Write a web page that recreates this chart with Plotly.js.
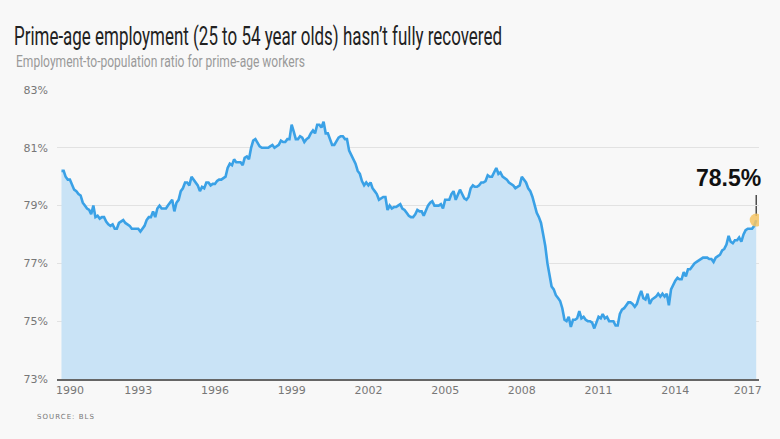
<!DOCTYPE html>
<html>
<head>
<meta charset="utf-8">
<script src="https://cdn.plot.ly/plotly-3.0.1.min.js"></script>
<style>
  html, body { margin: 0; padding: 0; background: #f8f8f8; }
  #chart { width: 780px; height: 439px; }
</style>
</head>
<body>
<div id="chart"></div>
<script>
// Monthly prime-age (25-54) employment-to-population ratio, %, Jan 1990 - Mar 2017
const startYear = 1990;
const ratio = [
  80.2, 80.2, 80.0, 79.9, 79.9, 79.7, 79.55, 79.5, 79.4, 79.35, 79.1, 79.0,      // 1990
  78.9, 78.85, 78.7, 79.0, 78.6, 78.65, 78.55, 78.6, 78.6, 78.45, 78.35, 78.3,   // 1991
  78.35, 78.2, 78.2, 78.4, 78.45, 78.5, 78.4, 78.35, 78.3, 78.2, 78.2, 78.2,     // 1992
  78.2, 78.1, 78.2, 78.3, 78.5, 78.6, 78.6, 78.8, 78.6, 78.9, 79.0, 78.9,        // 1993
  78.9, 78.9, 79.0, 79.1, 79.2, 78.8, 79.1, 79.2, 79.5, 79.6, 79.8, 79.8,        // 1994
  79.7, 80.0, 79.9, 79.8, 79.7, 79.5, 79.65, 79.6, 79.8, 79.8, 79.7, 79.75,      // 1995
  79.75, 79.85, 79.9, 79.9, 79.95, 80.0, 80.3, 80.45, 80.4, 80.6, 80.5, 80.5,    // 1996
  80.5, 80.4, 80.65, 80.7, 80.6, 81.0, 81.25, 81.3, 81.15, 81.05, 81.0, 81.0,    // 1997
  81.0, 81.0, 81.05, 81.1, 81.0, 81.05, 81.1, 81.25, 81.2, 81.2, 81.3, 81.3,     // 1998
  81.8, 81.55, 81.3, 81.3, 81.4, 81.35, 81.2, 81.3, 81.35, 81.5, 81.6, 81.5,     // 1999
  81.8, 81.8, 81.7, 81.9, 81.5, 81.5, 81.3, 81.1, 81.1, 81.25, 81.35, 81.4,      // 2000
  81.4, 81.3, 81.3, 80.9, 80.75, 80.6, 80.45, 80.2, 80.1, 79.85, 79.7, 79.8,     // 2001
  79.7, 79.8, 79.6, 79.5, 79.4, 79.2, 79.25, 79.3, 79.3, 78.85, 79.0, 78.9,      // 2002
  78.95, 78.95, 79.0, 79.05, 78.9, 78.85, 78.75, 78.65, 78.6, 78.6, 78.7, 78.85, // 2003
  78.8, 78.8, 78.65, 78.85, 79.0, 79.1, 79.15, 79.0, 79.0, 79.0, 79.05, 78.9,    // 2004
  79.2, 79.2, 79.2, 79.4, 79.5, 79.2, 79.4, 79.55, 79.4, 79.25, 79.2, 79.3,      // 2005
  79.6, 79.7, 79.65, 79.65, 79.7, 79.8, 79.8, 79.85, 80.05, 80.0, 80.0, 80.15,   // 2006
  80.3, 80.1, 80.15, 80.0, 79.95, 79.9, 79.8, 79.75, 79.7, 79.6, 79.65, 79.7,    // 2007
  80.0, 79.9, 79.8, 79.6, 79.5, 79.3, 79.0, 78.75, 78.6, 78.4, 78.0, 77.6,       // 2008
  77.0, 76.6, 76.2, 76.1, 75.9, 75.8, 75.7, 75.45, 75.05, 75.0, 75.15, 74.8,     // 2009
  75.05, 75.05, 75.1, 75.35, 75.1, 75.15, 75.05, 75.0, 75.0, 74.95, 74.75, 74.95,// 2010
  75.15, 75.1, 75.25, 75.1, 75.15, 75.0, 75.0, 75.0, 74.85, 74.85, 75.25, 75.4,  // 2011
  75.45, 75.55, 75.65, 75.65, 75.6, 75.5, 75.6, 75.85, 76.05, 75.8, 75.75, 75.95,// 2012
  75.6, 75.75, 75.8, 75.85, 75.95, 75.85, 75.95, 75.85, 75.95, 75.55, 76.1, 76.25,// 2013
  76.4, 76.5, 76.45, 76.45, 76.7, 76.55, 76.8, 76.8, 76.9, 77.0, 77.05, 77.1,    // 2014
  77.15, 77.2, 77.2, 77.2, 77.15, 77.15, 77.05, 77.2, 77.25, 77.3, 77.45, 77.5,  // 2015
  77.65, 77.95, 77.75, 77.7, 77.8, 77.8, 77.9, 77.75, 78.0, 78.15, 78.2, 78.2,   // 2016
  78.2, 78.3, 78.5                                                              // 2017
];
const yTickVals = [73, 75, 77, 79, 81, 83];
const yTickText = ['73%', '75%', '77%', '79%', '81%', '83%'];
const xTickVals = ['1990-05-01', '1993-01-01', '1996-01-01', '1999-01-01', '2002-01-01',
                   '2005-01-01', '2008-01-01', '2011-01-01', '2014-01-01', '2016-11-01'];
const xTickText = ['1990', '1993', '1996', '1999', '2002', '2005', '2008', '2011', '2014', '2017'];
const titleText = 'Prime-age employment (25 to 54 year olds) hasn’t fully recovered';
const subtitleText = 'Employment-to-population ratio for prime-age workers';
const sourceText = 'SOURCE: BLS';

const dates = ratio.map((_, i) => {
  const y = startYear + Math.floor(i / 12);
  const m = (i % 12) + 1;
  return y + '-' + (m < 10 ? '0' + m : m) + '-01';
});
const lastDate = dates[dates.length - 1];
const lastVal = ratio[ratio.length - 1];

const traces = [
  {
    x: dates, y: ratio, type: 'scatter', mode: 'lines',
    line: { color: '#3aa1e6', width: 2.6 },
    fill: 'tozeroy', fillcolor: '#c9e3f6',
    hoverinfo: 'skip'
  },
  {
    x: [lastDate], y: [lastVal], type: 'scatter', mode: 'markers',
    marker: { size: 13, color: 'rgba(245,196,100,0.85)' },
    hoverinfo: 'skip'
  }
];

const tickFont = { family: 'DejaVu Sans, Verdana, sans-serif', size: 11, color: '#777' };
const headFont = 'Roboto, Noto Sans, sans-serif';

const layout = {
  width: 780, height: 439,
  paper_bgcolor: '#f8f8f8', plot_bgcolor: '#f8f8f8',
  margin: { l: 57, r: 21, t: 90, b: 60 },
  showlegend: false,
  title: {
    text: titleText,
    font: { family: headFont, size: 25, color: '#222' },
    xref: 'container', x: 14 / 780, xanchor: 'left',
    yref: 'container', y: 1 - 36 / 439, yanchor: 'middle'
  },
  xaxis: {
    type: 'date',
    range: ['1989-10-29', '2017-04-10'],
    showgrid: false, zeroline: false,
    showline: true, linecolor: '#666', linewidth: 1.5,
    ticks: '', tickvals: xTickVals, ticktext: xTickText,
    tickfont: tickFont, fixedrange: true
  },
  yaxis: {
    range: [73, 83],
    tickvals: yTickVals, ticktext: yTickText,
    showgrid: true, gridcolor: '#e2e2e2', gridwidth: 1,
    zeroline: false, showline: false, ticks: '',
    ticklabelstandoff: 8,
    tickfont: tickFont, fixedrange: true
  },
  shapes: [
    {
      type: 'line', layer: 'below',
      xref: 'x', x0: lastDate, x1: lastDate,
      yref: 'y', ysizemode: 'pixel', yanchor: lastVal, y0: 4, y1: 25,
      line: { color: '#222', width: 1.2 }
    }
  ],
  annotations: [
    {
      text: subtitleText, showarrow: false, align: 'left',
      xref: 'paper', x: (14 - 57) / 702, xanchor: 'left',
      yref: 'paper', y: 1 + (90 - 61) / 289, yanchor: 'middle',
      font: { family: headFont, size: 17, color: '#9a9a9a' }
    },
    {
      text: sourceText, showarrow: false, align: 'left',
      xref: 'paper', x: (35 - 57) / 702, xanchor: 'left',
      yref: 'paper', y: -(417 - 379) / 289, yanchor: 'middle',
      font: { family: 'DejaVu Sans, sans-serif', size: 7, color: '#777' }
    },
    {
      text: '<b>' + lastVal.toFixed(1) + '%</b>', showarrow: false,
      xref: 'x', x: lastDate, xanchor: 'right', xshift: 7,
      yref: 'y', y: lastVal, yanchor: 'bottom', yshift: 27,
      font: { family: 'Liberation Sans, Arial, sans-serif', size: 23, color: '#111' }
    }
  ]
};

// condensed look of the original typography: fit the text runs to the widths they take in the original
function condense(el, width, adjust) {
  if (!el) return;
  el.setAttribute('textLength', width);
  el.setAttribute('lengthAdjust', adjust);
}

Plotly.newPlot('chart', traces, layout, { displayModeBar: false, staticPlot: true }).then(gd => {
  condense(gd.querySelector('.g-gtitle text.gtitle'), 488, 'spacingAndGlyphs');
  const ann = gd.querySelectorAll('.annotation-text');
  condense(ann[0], 289, 'spacingAndGlyphs');
  condense(ann[1], 57, 'spacing');
});
</script>
</body>
</html>
